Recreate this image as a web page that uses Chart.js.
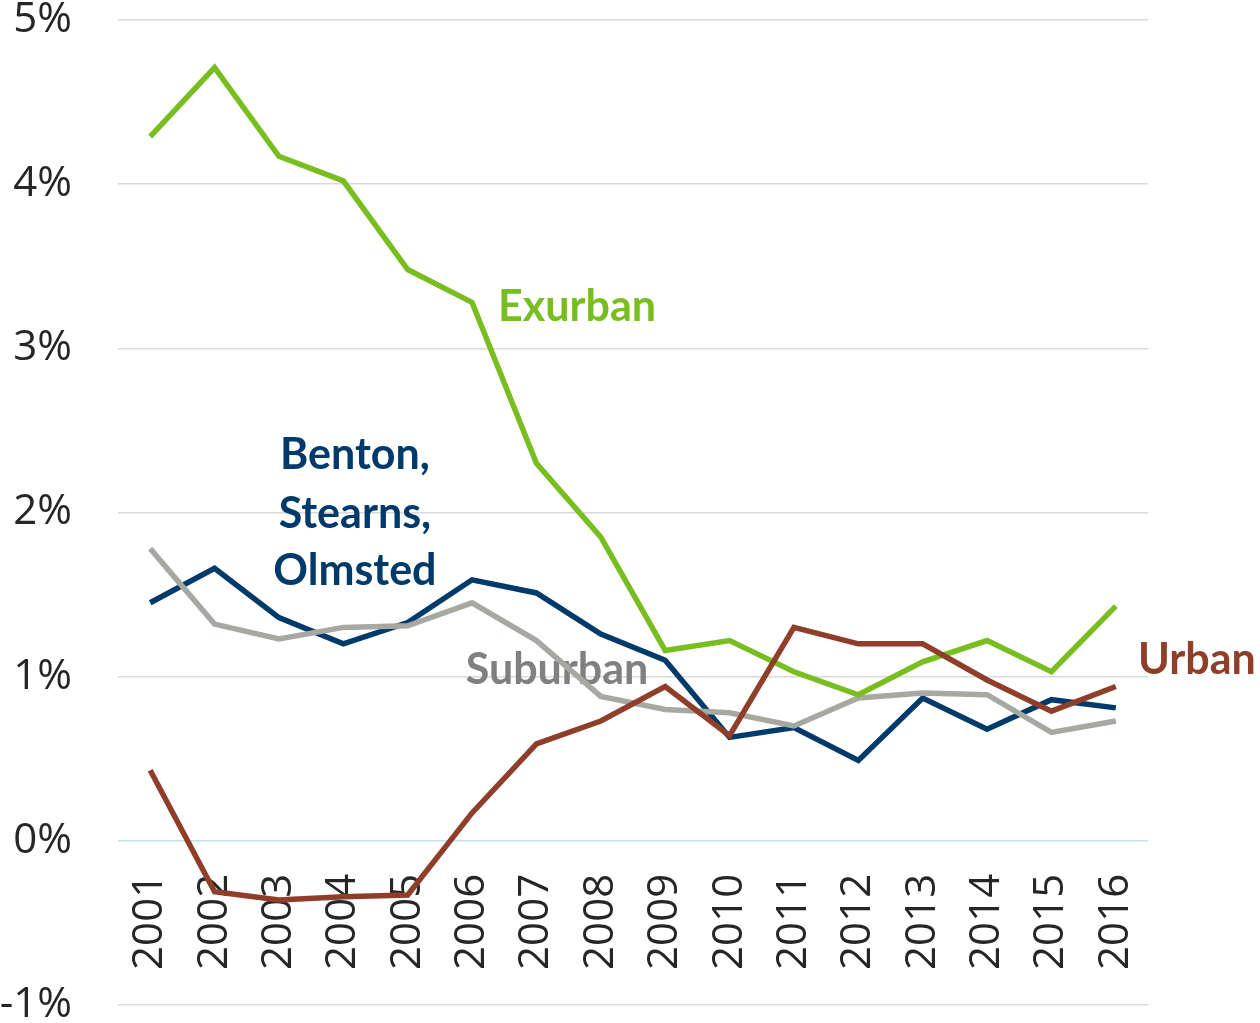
<!DOCTYPE html>
<html>
<head>
<meta charset="utf-8">
<script src="https://cdn.jsdelivr.net/npm/chart.js@4"></script>
<style>
  html, body { margin: 0; padding: 0; background: #fff; }
  #wrap { width: 1260px; height: 1023px; position: relative; }
</style>
</head>
<body>
<div id="wrap"><canvas id="growthChart"></canvas></div>
<script>
const years = ["2001", "2002", "2003", "2004", "2005", "2006", "2007", "2008",
  "2009", "2010", "2011", "2012", "2013", "2014", "2015", "2016"];

const urban = [0.43, -0.31, -0.36, -0.34, -0.33, 0.17, 0.59, 0.73,
  0.94, 0.64, 1.30, 1.20, 1.20, 0.98, 0.79, 0.94];
const exurban = [4.29, 4.71, 4.17, 4.02, 3.48, 3.28, 2.30, 1.85,
  1.16, 1.22, 1.03, 0.89, 1.09, 1.22, 1.03, 1.43];
const suburban = [1.78, 1.32, 1.23, 1.30, 1.31, 1.45, 1.22, 0.88,
  0.80, 0.78, 0.70, 0.87, 0.90, 0.89, 0.66, 0.73];
const bentonStearnsOlmsted = [1.45, 1.66, 1.36, 1.20, 1.33, 1.59, 1.51, 1.26,
  1.10, 0.63, 0.69, 0.49, 0.87, 0.68, 0.86, 0.81];

const yTicks = [-1, 0, 1, 2, 3, 4, 5];

// series labels sit next to the lines, placed in data units (x = year index, y = %)
const seriesLabels = [
  { lines: ["Exurban"], x: 6.63, y: [3.25], color: "#78be20" },
  { lines: ["Benton,", "Stearns,", "Olmsted"], x: 3.18, y: [2.35, 1.99, 1.64], color: "#003a6b" },
  { lines: ["Suburban"], x: 6.32, y: [1.04], color: "#808080" },
  { lines: ["Urban"], x: 16.26, y: [1.10], color: "#8f3e2a" },
];

const labelPlugin = {
  id: "seriesLabels",
  beforeDatasetsDraw(chart) {
    const { ctx, scales } = chart;
    ctx.save();
    ctx.font = "bold 43px Lato";
    ctx.textAlign = "center";
    ctx.textBaseline = "middle";
    seriesLabels.forEach((lbl) => {
      ctx.fillStyle = lbl.color;
      const px = scales.x.getPixelForValue(lbl.x);
      lbl.lines.forEach((line, i) => {
        ctx.fillText(line, px, scales.y.getPixelForValue(lbl.y[i]));
      });
    });
    ctx.restore();
  },
};

function line(data, color) {
  return {
    data,
    borderColor: color,
    borderWidth: 5.5,
    pointRadius: 0,
    tension: 0,
    fill: false,
  };
}

new Chart(document.getElementById("growthChart"), {
  type: "line",
  data: {
    labels: years,
    datasets: [
      line(urban, "#8f3e2a"),
      line(exurban, "#78be20"),
      line(suburban, "#a8a8a2"),
      line(bentonStearnsOlmsted, "#003a6b"),
    ],
  },
  options: {
    responsive: true,
    maintainAspectRatio: false,
    animation: false,
    layout: { padding: { top: 20, right: 112, bottom: 18, left: 0 } },
    plugins: { legend: { display: false }, tooltip: { enabled: false } },
    scales: {
      x: {
        position: { y: 0 },
        offset: true,
        grid: { display: false, drawTicks: false },
        border: { display: false },
        ticks: {
          autoSkip: false,
          minRotation: 90,
          maxRotation: 90,
          padding: 33,
          color: "#262626",
          font: { family: "'Open Sans'", size: 42 },
        },
      },
      y: {
        min: -1,
        max: 5,
        afterBuildTicks: (scale) => {
          scale.ticks = yTicks.map((v) => ({ value: v }));
        },
        afterFit: (scale) => {
          scale.width = 118;
          scale.paddingTop = 0;
          scale.paddingBottom = 0;
        },
        grid: {
          drawTicks: false,
          lineWidth: 1.5,
          color: (c) => (c.tick && c.tick.value === 0 ? "#bfe0f7" : "#d9d9d9"),
        },
        border: { display: false },
        ticks: {
          padding: 46,
          color: "#262626",
          font: { family: "'Open Sans'", size: 42 },
          callback: (v) => v + "%",
        },
      },
    },
  },
  plugins: [labelPlugin],
});
</script>
</body>
</html>
